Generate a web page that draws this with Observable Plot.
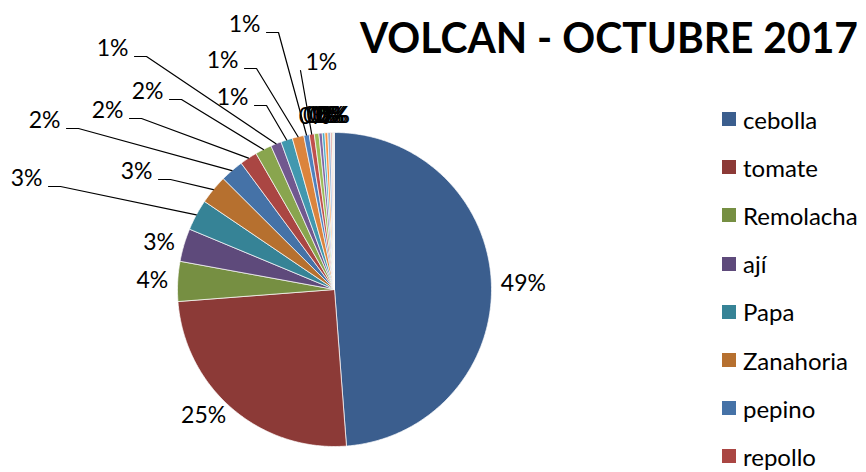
<!DOCTYPE html>
<html><head><meta charset="utf-8">
<script src="https://cdn.jsdelivr.net/npm/d3@7"></script>
<script src="https://cdn.jsdelivr.net/npm/@observablehq/plot@0.6"></script>
<style>
body{margin:0;background:#fff;}
#wrap{position:relative;width:866px;height:472px;overflow:hidden;font-family:Lato,sans-serif;background:#fff;}
#chart{position:absolute;left:0;top:0;}
#title{position:absolute;left:360px;top:16px;font-weight:bold;font-size:42px;line-height:42px;white-space:nowrap;transform-origin:0 0;color:#000;}
.leg{position:absolute;left:722px;height:30px;display:flex;align-items:center;font-size:24px;white-space:nowrap;color:#000;}
.sw{width:14px;height:14px;margin-right:7px;flex:none;}
</style></head><body>
<div id="wrap"><div id="chart"></div><div id="title"></div><div id="legend"></div></div>
<script>
// ---- data ----
const titleText = "VOLCAN - OCTUBRE 2017";
const categories = ["cebolla","tomate","Remolacha","ají","Papa","Zanahoria","pepino","repollo",
  "lechuga","brócoli","coliflor","zapallo","choclo","arveja","haba","vainita",
  "apio","poro","ajo","espinaca","culantro","perejil"];
const values = [48.8, 25.0, 4.1, 3.4, 3.2, 3.0, 2.4, 1.8,
  1.7, 1.1, 1.2, 1.2, 0.55, 0.52, 0.47, 0.34,
  0.27, 0.3, 0.28, 0.17, 0.13, 0.1];
const colors = ["#3B5E8E","#8C3A37","#768F42","#5E4A7B","#368396","#B6702F",
  "#4572A7","#AA4643","#89A54E","#71588F","#4198AF","#DB843D",
  "#4F81BD","#C0504D","#9BBB59","#8064A2","#4BACC6","#F79646",
  "#95B3D7","#D99694","#C3D69B","#B3A2C7"];

// ---- layout (pixels) ----
const W = 866, H = 472, CX = 334, CY = 289, R = 157;
const ux = px => (px - CX) / R, uy = py => (CY - py) / R;
// manual leader-label placement for small slices: slice index, text edge x, text centre y, anchor
const leaderLayout = [
  [4, 42, 178, "end"], [5, 152, 171, "end"], [6, 60, 120, "end"], [7, 123, 110, "end"],
  [8, 163, 91, "end"], [9, 128, 48, "end"], [10, 248, 97, "end"], [11, 238, 60, "end"],
  [12, 260, 24, "end"], [13, 305, 62, "start"]
];

const total = d3.sum(values);
const pct = v => Math.round(v / total * 100) + "%";
const arcs = d3.pie().sort(null).value(d => d)(values);

// slice polygons
const slicePts = [];
arcs.forEach((a, i) => {
  const name = categories[i];
  const n = Math.max(2, Math.ceil((a.endAngle - a.startAngle) / (Math.PI / 360)));
  slicePts.push({name, x: 0, y: 0});
  for (let k = 0; k <= n; k++) {
    const t = a.startAngle + (a.endAngle - a.startAngle) * k / n;
    slicePts.push({name, x: Math.sin(t), y: Math.cos(t)});
  }
  slicePts.push({name, x: 0, y: 0});
});
const mid = i => (arcs[i].startAngle + arcs[i].endAngle) / 2;

// main outside labels
const labStart = [], labEnd = [], labMid = [];
[0,1,2,3].forEach(i => {
  const m = mid(i), r = 1.06;
  const d = {x: r * Math.sin(m), y: r * Math.cos(m), text: pct(values[i])};
  (Math.sin(m) > 0 ? labStart : labEnd).push(d);
});
// leader labels
const leaderPts = [];
leaderLayout.forEach(([i, tx, ty, anchor]) => {
  const d = {x: ux(tx), y: uy(ty), text: pct(values[i])};
  (anchor === "start" ? labStart : labEnd).push(d);
  const m = mid(i);
  const by = ty + 8;
  if (anchor === "end") {
    leaderPts.push({id: i, x: ux(tx + 6), y: uy(by)});
    leaderPts.push({id: i, x: ux(tx + 18), y: uy(by)});
  } else {
    leaderPts.push({id: i, x: ux(tx - 5), y: uy(by)});
  }
  leaderPts.push({id: i, x: Math.sin(m), y: Math.cos(m)});
});
// remaining tiny slices: overlapping labels at the rim (as in the original)
for (let i = 14; i < values.length; i++) {
  const m = mid(i), r = 1.11;
  labMid.push({x: r * Math.sin(m), y: r * Math.cos(m), text: pct(values[i])});
}

const fs = 23;
const chart = Plot.plot({
  width: W, height: H, margin: 0,
  x: {domain: [ux(0), ux(W)], axis: null},
  y: {domain: [uy(H), uy(0)], axis: null},
  color: {type: "ordinal", domain: categories, range: colors},
  style: {fontFamily: "Lato, sans-serif", background: "transparent", overflow: "visible"},
  marks: [
    Plot.line(slicePts, {x: "x", y: "y", z: "name", fill: "name", stroke: "white", strokeWidth: 0.7, strokeLinejoin: "round"}),
    Plot.line(leaderPts, {x: "x", y: "y", z: "id", stroke: "black", strokeWidth: 1.2}),
    Plot.text(labStart, {x: "x", y: "y", text: "text", textAnchor: "start", fontSize: fs, fill: "black"}),
    Plot.text(labEnd, {x: "x", y: "y", text: "text", textAnchor: "end", fontSize: fs, fill: "black"}),
    Plot.text(labMid, {x: "x", y: "y", text: "text", textAnchor: "middle", fontSize: fs, fill: "black"})
  ]
});
document.getElementById("chart").appendChild(chart);

// title
const titleEl = document.getElementById("title");
titleEl.textContent = titleText;
function fitTitle() {
  titleEl.style.transform = "none";
  const w = titleEl.getBoundingClientRect().width;
  if (w > 0) titleEl.style.transform = `scaleX(${498 / w})`;
}
fitTitle();
if (document.fonts) document.fonts.ready.then(fitTitle);

// legend: only the entries that fit in the visible area, as in the original
const leg = document.getElementById("legend");
categories.forEach((c, i) => {
  const top = 104 + i * 48.2;
  if (top + 30 > H) return;
  const item = document.createElement("div");
  item.className = "leg";
  item.style.top = top + "px";
  const sw = document.createElement("div");
  sw.className = "sw";
  sw.style.background = colors[i];
  const tx = document.createElement("span");
  tx.textContent = c;
  item.appendChild(sw); item.appendChild(tx);
  leg.appendChild(item);
});
</script>
</body></html>
